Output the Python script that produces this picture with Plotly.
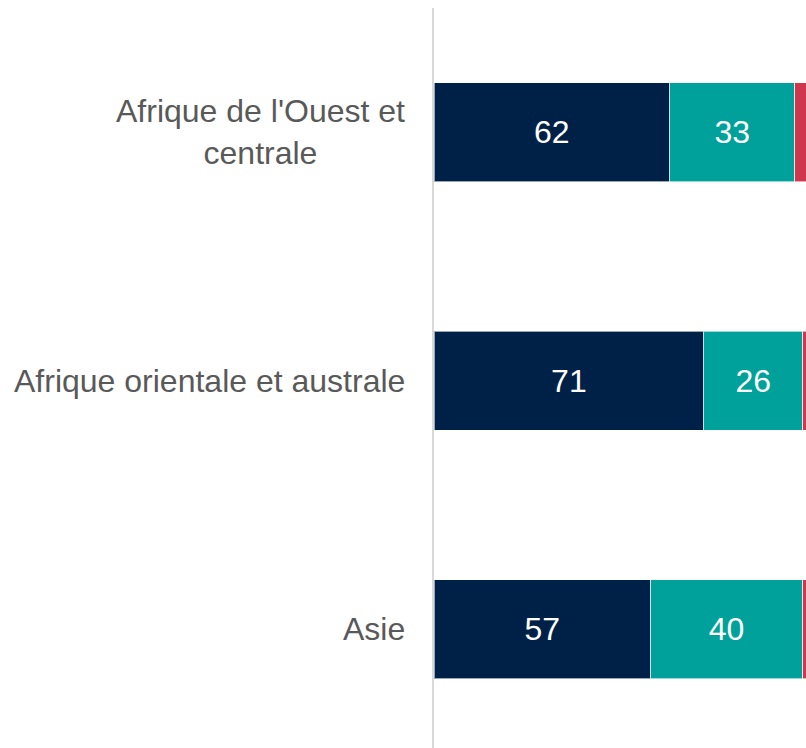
import plotly.graph_objects as go

categories = ["Afrique de l'Ouest et<br>centrale", "Afrique orientale et australe", "Asie"]
series1 = [62, 71, 57]
series2 = [33, 26, 40]
series3 = [5, 3, 3]

colors = ["#002147", "#00A19A", "#D0374F"]
FONT = "Liberation Sans, Arial, sans-serif"

fig = go.Figure()
for vals, col, show in [(series1, colors[0], True), (series2, colors[1], True), (series3, colors[2], False)]:
    fig.add_trace(go.Bar(
        y=categories, x=vals, orientation="h",
        marker=dict(color=col, line=dict(color="rgba(255,255,255,0.6)", width=1)),
        width=0.4,
        text=[str(v) for v in vals] if show else None,
        textposition="inside" if show else "none",
        insidetextanchor="middle",
        textangle=0,
        textfont=dict(color="white", size=32, family=FONT),
        hoverinfo="skip",
    ))

for cat in categories:
    fig.add_annotation(
        x=0, xref="paper", y=cat, yref="y",
        text=cat, showarrow=False,
        xanchor="right", yanchor="middle", align="center",
        xshift=-27,
        font=dict(size=32, color="#595959", family=FONT),
    )

fig.update_layout(
    barmode="stack",
    width=806, height=748,
    margin=dict(l=434, r=0, t=8, b=0),
    paper_bgcolor="white", plot_bgcolor="white",
    showlegend=False,
    font=dict(family=FONT, color="#595959"),
    xaxis=dict(range=[0, 97.9], showgrid=False, zeroline=False, showticklabels=False, showline=False),
    yaxis=dict(
        type="category",
        range=[2.478, -0.5],
        showgrid=False, zeroline=False,
        showline=True, linecolor="#D9D9D9", linewidth=2,
        ticks="", showticklabels=False,
    ),
)

fig.write_html(
    "out.html",
    config={"displayModeBar": False},
    post_script="document.body.style.margin='0';document.body.style.overflow='hidden';document.documentElement.style.overflow='hidden';",
)
